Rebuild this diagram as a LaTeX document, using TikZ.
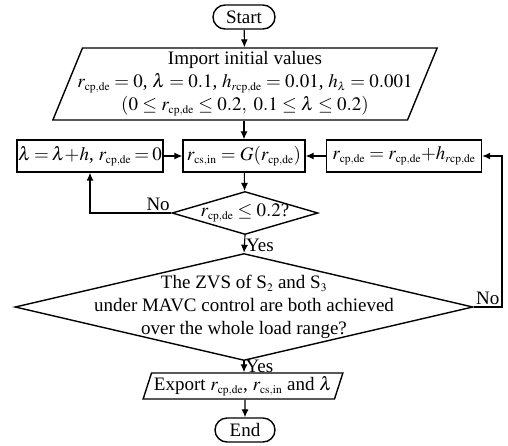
\documentclass[tikz,border=0pt]{standalone}
\usepackage{mathptmx}
\usepackage[no-math]{fontspec}
\setmainfont{Liberation Serif}
\usetikzlibrary{shapes.geometric,shapes.misc,arrows.meta}
\DeclareMathSizes{19}{19}{11.5}{9}
\newcommand{\rmt}[1]{\mathrm{#1}}
\newcommand{\rcp}{r_{\rmt{cp,de}}}

\begin{document}
\begin{tikzpicture}[x=1pt,y=-1pt,font=\fontsize{19}{23}\selectfont,
  term/.style={draw,rounded rectangle,line width=1.4pt,minimum width=62pt,minimum height=24pt,inner sep=0pt},
  io/.style={draw,trapezium,trapezium left angle=66,trapezium right angle=114,trapezium stretches=true,line width=1.4pt,inner sep=1pt,align=center},
  proc/.style={draw,rectangle,line width=1.4pt,minimum height=32pt,inner sep=1pt},
  cond/.style={draw,diamond,line width=1.4pt,inner sep=0pt},
  arr/.style={-{Latex[length=8pt,width=7pt]},line width=1.1pt},
  lbl/.style={inner xsep=1pt,inner ysep=0pt}]
\useasboundingbox (0,0) rectangle (508,445);
% Blocks:
\node (start) [term] at (244,17) {Start};
\node (init) [io,minimum width=366pt,minimum height=72pt,inner xsep=-5pt] at (245,84)
  {Import initial values\\
   $\rcp = 0$, $\lambda = 0.1$, $h_{r\rmt{cp,de}} = 0.01$, $h_\lambda = 0.001$\\
   $(0 \le \rcp \le 0.2,\ 0.1 \le \lambda \le 0.2)$};
\node (lam) [proc,minimum width=145pt] at (90,156) {\thickmuskip=3mu $\lambda = \lambda{+}h$, $\rcp = 0$};
\node (gfun) [proc,minimum width=122pt] at (244,156) {$r_{\rmt{cs,in}} = G(\rcp)$};
\node (inc) [proc,minimum width=155pt] at (404,156) {$\rcp = \rcp{+}h_{r\rmt{cp,de}}$};
\node (chk) [cond,minimum width=146pt,minimum height=43pt,label=center:{$\rcp \le 0.2$?}] at (245,213) {};
\node (zvs) [cond,minimum width=458pt,minimum height=107pt,
  label={[align=center]center:{The ZVS of S$_2$ and S$_3$\\under MAVC control are both achieved\\over the whole load range?}}] at (244,307) {};
\node (out) [io,minimum width=200pt,minimum height=26pt,trapezium left angle=69,trapezium right angle=111] at (243,386)
  {Export $\rcp$, $r_{\rmt{cs,in}}$ and $\lambda$};
\node (stop) [term,minimum width=60pt] at (245,430) {End};
\coordinate (rside) at (502,0);
% Connectors:
\draw[arr] (start) -- (init);
\draw[arr] (init.south -| gfun) -- (gfun);
\draw[arr] (lam) -- (gfun);
\draw[arr] (inc) -- (gfun);
\draw[arr] (gfun) -- (chk);
\draw[arr] (chk.west) node[lbl,above left,inner ysep=2pt] {No} -| (lam.south);
\draw[arr] (chk.south) -- node[lbl,right,pos=0.55] {Yes} (zvs.north);
\draw[arr] (zvs.east) -- (zvs.east -| rside) node[lbl,above left,inner xsep=2pt,inner ysep=2pt] {No} |- (inc.east);
\draw[arr] (zvs.south) -- node[lbl,right,pos=0.45] {Yes} (out.north -| zvs);
\draw[arr] (out.south -| stop) -- (stop);
\end{tikzpicture}
\end{document}
